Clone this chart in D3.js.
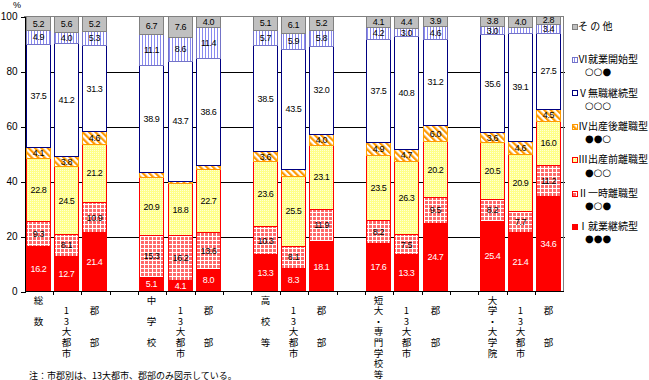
<!DOCTYPE html>
<html><head><meta charset="utf-8">
<script src="https://cdn.jsdelivr.net/npm/d3@7"></script>
<style>
html,body{margin:0;padding:0;background:#fff;}
svg{display:block;}
.vlab{writing-mode:vertical-rl;text-orientation:upright;}
</style></head><body>
<svg id="chart" width="649" height="380"></svg>
<script>
// ---------- data ----------
const categories = ["総　数","　13大都市","　郡　　部","中　学　校","　13大都市","　郡　　部",
  "高　校　等","　13大都市","　郡　　部","短大・専門学校等","　13大都市","　郡　　部",
  "大学・大学院","　13大都市","　郡　　部"];
const seriesNames = ["Ⅰ就業継続型","Ⅱ一時離職型","Ⅲ出産前離職型","Ⅳ出産後離職型","Ⅴ無職継続型","Ⅵ就業開始型","その他"];
const legendLabels = ["Ⅰ就業継続型","Ⅱ一時離職型","Ⅲ出産前離職型","Ⅳ出産後離職型","Ⅴ無職継続型","Ⅵ就業開始型","そ の 他"];
const legendMarks = ["●●●","●○●","●○○","●●○","○○○","○○●",""];
const s1 = [16.2,12.7,21.4,5.1,4.1,8.0,13.3,8.3,18.1,17.6,13.3,24.7,25.4,21.4,34.6];
const s2 = [9.3,8.1,10.9,15.3,16.2,13.6,10.3,8.1,11.9,8.2,7.5,9.5,8.2,7.7,11.2];
const s3 = [22.8,24.5,21.2,20.9,18.8,22.7,23.6,25.5,23.1,23.5,26.3,20.2,20.5,20.9,16.0];
const s4 = [4.1,3.8,4.6,2.0,1.0,1.7,3.6,2.6,4.0,4.9,4.7,6.0,3.6,4.6,4.5];
const s5 = [37.5,41.2,31.3,38.9,43.7,38.6,38.5,43.5,32.0,37.5,40.8,31.2,35.6,39.1,27.5];
const s6 = [4.9,4.0,5.3,11.1,8.6,11.4,5.7,5.9,5.8,4.2,3.0,4.6,3.0,2.3,3.4];
const s7 = [5.2,5.6,5.2,6.7,7.6,4.0,5.1,6.1,5.2,4.1,4.4,3.9,3.8,4.0,2.8];
const seriesValues = [s1,s2,s3,s4,s5,s6,s7];
// segments whose value is not printed in the original (bar index, series index)
const unlabeled = [[3,3],[4,3],[5,3],[7,3],[13,5]];
const yTicks = [0,20,40,60,80,100];
const note = "注：市郡別は、13大都市、郡部のみ図示している。";

// ---------- styles ----------
const styles = [
  {fill:"#FF0000", stroke:"#FF0000", text:"#FFFFFF"},
  {fill:"url(#pGrid)", stroke:"#FF0000", text:"#000"},
  {fill:"url(#pDots)", stroke:"#FF0000", text:"#000"},
  {fill:"url(#pDiag)", stroke:"#FF9900", text:"#000"},
  {fill:"#FFFFFF", stroke:"#000080", text:"#000"},
  {fill:"url(#pVert)", stroke:"#7373C8", text:"#000"},
  {fill:"#C0C0C0", stroke:"#808080", text:"#000"}
];
const jp = "'Noto Sans CJK JP','Noto Sans',sans-serif";
const num = "'Liberation Sans',Arial,sans-serif";
const sym = "'DejaVu Sans',sans-serif";

const svg = d3.select("#chart");
const defs = svg.append("defs");
const pg = defs.append("pattern").attr("id","pGrid").attr("patternUnits","userSpaceOnUse").attr("width",4).attr("height",4);
pg.append("rect").attr("width",4).attr("height",4).attr("fill","#FF6A6A");
pg.append("rect").attr("width",4).attr("height",1).attr("fill","#FFFFFF");
pg.append("rect").attr("width",1).attr("height",4).attr("fill","#FFFFFF");
const pd = defs.append("pattern").attr("id","pDots").attr("patternUnits","userSpaceOnUse").attr("width",2).attr("height",2);
pd.append("rect").attr("width",2).attr("height",2).attr("fill","#FFFF88");
pd.append("rect").attr("width",1).attr("height",1).attr("fill","#FFFFD8");
const pdi = defs.append("pattern").attr("id","pDiag").attr("patternUnits","userSpaceOnUse").attr("width",4.5).attr("height",4.5).attr("patternTransform","rotate(-45)");
pdi.append("rect").attr("width",4.5).attr("height",4.5).attr("fill","#FFFFFF");
pdi.append("rect").attr("width",2.2).attr("height",4.5).attr("fill","#FF9900");
const pv = defs.append("pattern").attr("id","pVert").attr("patternUnits","userSpaceOnUse").attr("width",3).attr("height",3);
pv.append("rect").attr("width",3).attr("height",3).attr("fill","#FFFFFF");
pv.append("rect").attr("x",1).attr("width",1).attr("height",3).attr("fill","#8A8AF0");

// ---------- layout ----------
const x0 = 24, x1 = 563, yTop = 16, yBot = 291;
const slotOf = i => i + Math.floor(i/3);
const xBand = d3.scaleBand().domain(d3.range(19)).range([x0,x1]).paddingInner(0.12).paddingOuter(0.06);
const y = d3.scaleLinear().domain([0,100]).range([yBot,yTop]);

const table = categories.map((c,i) => {
  const row = {idx:i};
  seriesNames.forEach((s,k) => row[s] = seriesValues[k][i]);
  return row;
});
const stacked = d3.stack().keys(seriesNames)(table);

// gridlines
svg.append("g").attr("transform",`translate(${x0},0.5)`)
  .call(d3.axisLeft(y).tickValues([20,40,60,80]).tickSize(-(x1-x0+2)).tickFormat(""))
  .call(g => g.select(".domain").remove())
  .call(g => g.selectAll("line").attr("stroke","#000").attr("shape-rendering","crispEdges"));

svg.append("path").attr("d",`M${x0},${yTop+0.5}H${x1+0.5}V${yBot}`)
  .attr("fill","none").attr("stroke","#808080").attr("shape-rendering","crispEdges");

// bars
const bw = Math.round(xBand.bandwidth()) - 1;
const hidden = new Set(unlabeled.map(d => d[0]+"_"+d[1]));
stacked.forEach((layer,k) => {
  svg.append("g").selectAll("rect").data(layer).enter().append("rect")
    .attr("x", (d,i) => Math.round(xBand(slotOf(i))) + 0.5)
    .attr("y", d => Math.round(y(d[1])) + 0.5)
    .attr("width", bw)
    .attr("height", d => Math.round(y(d[0])) - Math.round(y(d[1])))
    .attr("fill", styles[k].fill)
    .attr("stroke", styles[k].stroke)
    .attr("stroke-width",1);
});
stacked.forEach((layer,k) => {
  svg.append("g").selectAll("text").data(layer.map((d,i)=>({d,i})).filter(o => !hidden.has(o.i+"_"+k)))
    .enter().append("text")
    .attr("x", o => Math.round(xBand(slotOf(o.i))) + 0.5 + bw/2)
    .attr("y", o => (y(o.d[0]) + y(o.d[1]))/2 + 3.4)
    .attr("text-anchor","middle")
    .attr("font-family", num).attr("font-size","9px").attr("letter-spacing","-0.4px")
    .attr("fill", styles[k].text)
    .text(o => d3.format(".1f")(seriesValues[k][o.i]));
});

// y axis
svg.append("g").attr("transform",`translate(${x0+0.5},0.5)`)
  .call(d3.axisLeft(y).tickValues(yTicks).tickSize(4).tickPadding(3).tickFormat(d3.format("d")))
  .call(g => g.select(".domain").attr("stroke","#000").attr("shape-rendering","crispEdges"))
  .call(g => g.selectAll("line").attr("stroke","#000").attr("shape-rendering","crispEdges"))
  .call(g => g.selectAll("text").attr("font-family",num).attr("font-size","10px").attr("fill","#000"));

// x axis
const slotEdge = d3.scaleLinear().domain([0,19]).range([x0,x1]);
svg.append("g").attr("transform",`translate(0.5,${yBot+0.5})`)
  .call(d3.axisBottom(slotEdge).tickValues(d3.range(1,19)).tickSize(3).tickFormat(""))
  .call(g => g.select(".domain").attr("d",`M${x0},0H${x1}`).attr("stroke","#000").attr("shape-rendering","crispEdges"))
  .call(g => g.selectAll("line").attr("stroke","#000").attr("shape-rendering","crispEdges"));

// category labels: vertical text, one character per line
const labFs = 9.5, labPitch = 10.6;
categories.forEach((c,i) => {
  const cx = Math.round(xBand(slotOf(i))) + 0.5 + bw/2;
  svg.append("text").attr("class","vlab")
    .attr("x",cx).attr("y",300 - labFs/2)
    .attr("font-family",jp).attr("font-size",labFs+"px")
    .attr("letter-spacing",(labPitch-labFs)+"px")
    .attr("fill","#000").text(c);
});

svg.append("text").attr("x",13).attr("y",8).attr("font-family",num).attr("font-size","9px").text("%");

// legend
const legOrder = [6,5,4,3,2,1,0];
legOrder.forEach((k,r) => {
  const cy = 26.6 + r*33.4;
  svg.append("rect").attr("x",572.5).attr("y",Math.round(cy-3)+0.5).attr("width",5).attr("height",5)
    .attr("fill",styles[k].fill).attr("stroke",styles[k].stroke);
  svg.append("text").attr("x",578).attr("y",cy+3.2).attr("font-family",jp).attr("font-size","10px")
    .attr("fill","#000").text(legendLabels[k]);
  if (legendMarks[k]) {
    svg.append("text").attr("x",585).attr("y",cy+15.4).attr("font-family",sym).attr("font-size","10px")
      .attr("fill","#000").text(legendMarks[k]);
  }
});

svg.append("text").attr("x",29).attr("y",378.5).attr("font-family",jp).attr("font-size","9px").attr("fill","#000").text(note);
</script>
</body></html>
